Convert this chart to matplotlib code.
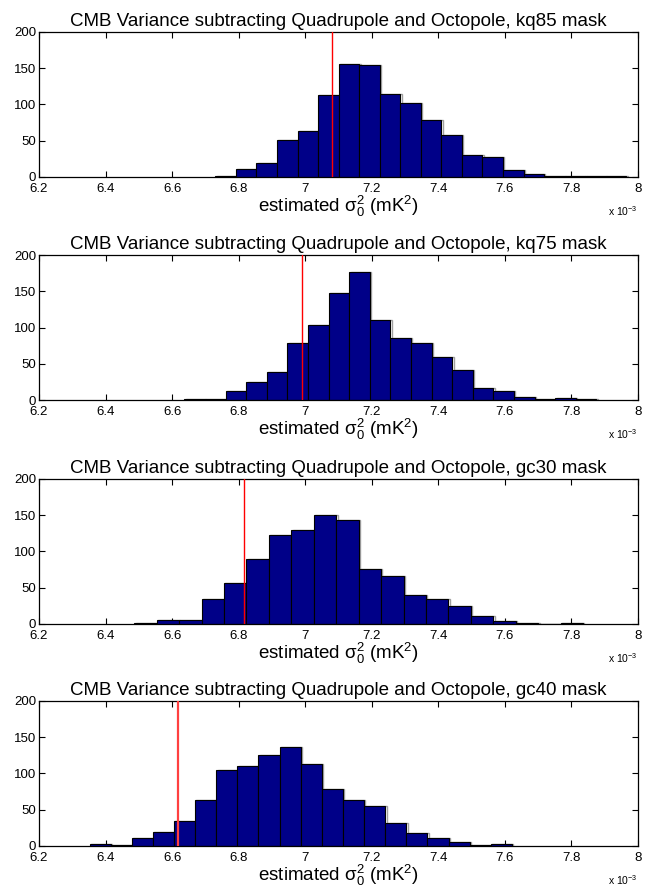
import numpy as np
import matplotlib
matplotlib.use("Agg")
import matplotlib.pyplot as plt

plt.rcParams['font.family'] = ['Liberation Sans', 'DejaVu Sans']

# histogram data, x in units of 1e-3 mK^2
masks = ["kq85", "kq75", "gc30", "gc40"]
bin_start = [6.730, 6.637, 6.486, 6.352]
bin_end = [7.965, 7.875, 7.835, 7.621]
counts_kq85 = [2, 11, 19, 51, 64, 113, 156, 155, 115, 102, 78, 58, 30, 27, 9, 4, 1, 1, 2, 1]
counts_kq75 = [1, 2, 13, 25, 39, 79, 103, 148, 177, 111, 86, 79, 59, 41, 17, 12, 4, 1, 3, 1]
counts_gc30 = [2, 5, 6, 35, 56, 90, 123, 130, 150, 144, 76, 66, 40, 35, 25, 11, 4, 1, 0, 1]
counts_gc40 = [3, 1, 11, 19, 34, 64, 105, 111, 126, 137, 113, 79, 64, 55, 32, 18, 11, 6, 2, 3]
all_counts = [counts_kq85, counts_kq75, counts_gc30, counts_gc40]
observed = [7.082, 6.989, 6.815, 6.619]

xticks = [6.2, 6.4, 6.6, 6.8, 7.0, 7.2, 7.4, 7.6, 7.8, 8.0]
xticklabels = ["6.2", "6.4", "6.6", "6.8", "7", "7.2", "7.4", "7.6", "7.8", "8"]
yticks = [0, 50, 100, 150, 200]

fig = plt.figure(figsize=(6.5, 8.88), dpi=100)

bottoms = [0.8007, 0.5495, 0.2973, 0.0473]
for i in range(4):
    ax = fig.add_axes([0.060, bottoms[i], 0.9215, 0.1633])
    counts = all_counts[i]
    n = len(counts)
    w = (bin_end[i] - bin_start[i]) / n
    left = bin_start[i] + w * np.arange(n)
    # faint gray shadow like matlab's rendering
    ax.bar(left + 0.004, counts, width=w, align='edge', color='none',
           edgecolor='#a0a0a0', linewidth=1.0, zorder=1)
    ax.bar(left, counts, width=w, align='edge', color='#000088',
           edgecolor='black', linewidth=0.8, zorder=2)
    if i == 3:
        ax.axvline(observed[i], color='#ff4040', linewidth=1.6, zorder=3)
    else:
        ax.axvline(observed[i], color='red', linewidth=1.0, zorder=3)

    ax.set_xlim(6.2, 8.0)
    ax.set_ylim(0, 200)
    ax.set_xticks(xticks)
    ax.set_xticklabels(xticklabels)
    ax.set_yticks(yticks)
    ax.tick_params(direction='in', top=True, right=True, labelsize=9.5,
                   length=4, width=0.8)
    ax.tick_params(axis='x', pad=4.5)
    ax.tick_params(axis='y', pad=2)
    for s in ax.spines.values():
        s.set_linewidth(0.9)
    ax.set_title("CMB Variance subtracting Quadrupole and Octopole, %s mask" % masks[i],
                 fontsize=13.5, pad=4)
    ax.set_xlabel(r"estimated $\mathregular{\sigma_0^2}$ (mK$\mathregular{^2}$)",
                  fontsize=13.5, labelpad=-1)
    ax.text(1.0, -0.19, r"x 10$\mathregular{^{-3}}$", transform=ax.transAxes,
            ha='right', va='top', fontsize=7.5)

fig.savefig("out.png", dpi=100)
